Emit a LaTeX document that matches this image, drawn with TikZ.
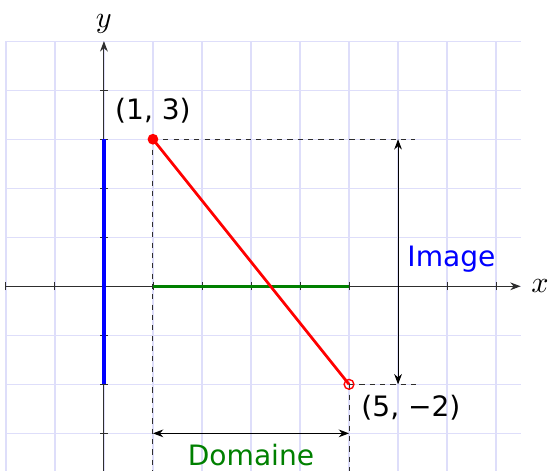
\documentclass[tikz,border=0pt]{standalone}
\usepackage{fontspec}
\setmainfont{DejaVu Sans}
\usetikzlibrary{arrows.meta,positioning,calc}
\definecolor{fnGrid}{HTML}{DEDEFA}
\definecolor{fnAxis}{HTML}{2E2E2E}
\definecolor{fnRed}{HTML}{FF0000}
\definecolor{fnBlue}{HTML}{0000FF}
\definecolor{fnGreen}{HTML}{008000}
\newcommand{\FNType}{\fontsize{16.3}{19}\selectfont}
\tikzset{fn/base/.style={line cap=butt,line join=miter,
  every node/.style={font=\FNType,inner sep=1pt,text=black}},
  fn/grid/.style={draw=fnGrid,line width=.8pt},
  fn/axis/.style={-{Stealth[length=6pt,width=4.5pt]},draw=fnAxis,line width=.6pt},
  fn/axislabel/.style={font=\normalsize,scale=1.75},
  fn/tick/.style={draw=fnAxis,line width=.5pt},
  fn/guide/.style={draw=fnAxis,dashed,line width=.6pt},
  fn/span/.style={{Stealth[length=6pt,width=4.5pt]}-{Stealth[length=6pt,width=4.5pt]},
    draw=black,line width=.6pt},
  fn/graph/.style={draw=fnRed,line width=1.6pt},
  fn/image/.style={draw=fnBlue,line width=2.4pt},
  fn/domain/.style={draw=fnGreen,line width=2pt}}

\begin{document}
\begin{tikzpicture}[fn/base]
  \useasboundingbox (-2.12,-3.76) rectangle (9.12,5.84);
  \draw[fn/grid] (-2,-4) grid (8.5,5);
  % axes with a tick at every unit
  \draw[fn/axis] (-2,0) -- (8.5,0) node[right=4pt,fn/axislabel] (xlab) {$x$};
  \draw[fn/axis] (0,-4) -- (0,5) node[above=2pt,fn/axislabel] (ylab) {$y$};
  \foreach \k in {-2,...,8}{
    \draw[fn/tick] (\k,-.08) -- (\k,.08);}
  \foreach \k in {-3,...,4}{
    \draw[fn/tick] (-.08,\k) -- (.08,\k);}
  \coordinate (A) at (1,3);
  \coordinate (B) at (5,-2);
  \coordinate (Ax) at (1,-3.9);
  \coordinate (Bx) at (5,-3.9);
  \coordinate (Ay) at (6.35,3);
  \coordinate (By) at (6.45,-2);
  \coordinate (Dl) at (1,-3);
  \coordinate (Dr) at (5,-3);
  \coordinate (It) at (6,3);
  \coordinate (Ib) at (6,-2);
  % projections on the axes
  \draw[fn/guide] (A) -- (Ax);
  \draw[fn/guide] (B) -- (Bx);
  \draw[fn/guide] (A) -- (Ay);
  \draw[fn/guide] (B) -- (By);
  \draw[fn/image] (0,-2) -- (0,3);
  \draw[fn/domain] (1,0) -- (5,0);
  \draw[fn/graph] (A) -- (B);
  \fill[fnRed] (A) circle (.11);
  \draw[fnRed,line width=.8pt] (B) circle (.1);
  \node[above=8pt of A] (labA) {(1, 3)};
  \node[below right=5pt and 6pt of B] (labB) {(5, −2)};
  % domain and image spans
  \draw[fn/span] (Dl) -- (Dr);
  \node[below=5pt of {$(Dl)!.5!(Dr)$},text=fnGreen] (dom) {Domaine};
  \draw[fn/span] (It) -- (Ib);
  \node[anchor=west,text=fnBlue] (img) at (6.15,.55) {Image};
\end{tikzpicture}
\end{document}
